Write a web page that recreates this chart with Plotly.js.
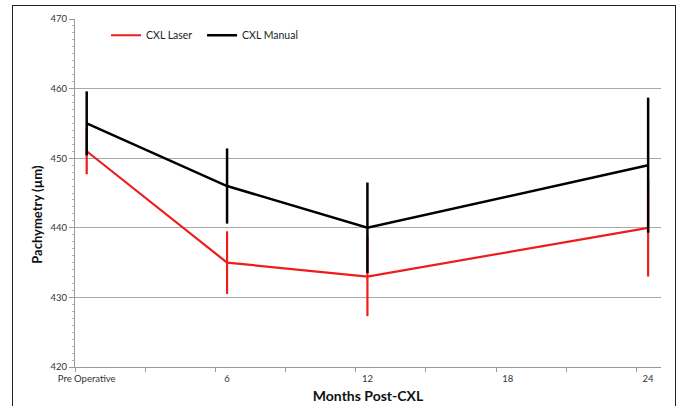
<!DOCTYPE html>
<html>
<head>
<meta charset="utf-8">
<script src="https://cdn.plot.ly/plotly-3.0.1.min.js"></script>
<style>
  html, body { margin: 0; padding: 0; background: #fff; }
  #wrap { position: relative; width: 682px; height: 406px; overflow: hidden; }
  #chart { width: 682px; height: 406px; }
  #frame { position: absolute; left: 12px; top: 5px; width: 662px; height: 420px; border: 1.5px solid #222; pointer-events: none; }
</style>
</head>
<body>
<div id="wrap">
  <div id="chart"></div>
  <div id="frame"></div>
</div>
<script>
// Data (months post-CXL; 0 = Pre Operative)
const months = [0, 6, 12, 24];
const laserMean = [451, 435, 433, 440];
const laserSD = [3.3, 4.5, 5.7, 7.0];
const manualMean = [455, 446, 440, 449];
const manualSD = [4.6, 5.4, 6.5, 9.7];

const tickVals = [0, 6, 12, 18, 24];
const tickText = ['Pre Operative', '6', '12', '18', '24'];

const fontFam = 'Lato, "Open Sans", sans-serif';

const traces = [
  {
    x: months, y: laserMean, name: 'CXL Laser', type: 'scatter', mode: 'lines',
    line: { color: '#ee1c1c', width: 2.2 },
    error_y: { type: 'data', array: laserSD, visible: true, color: '#ee1c1c', thickness: 2.2, width: 0 }
  },
  {
    x: months, y: manualMean, name: 'CXL Manual', type: 'scatter', mode: 'lines',
    line: { color: '#000000', width: 2.5 },
    error_y: { type: 'data', array: manualSD, visible: true, color: '#000000', thickness: 2.5, width: 0 }
  }
];

const layout = {
  width: 682, height: 406,
  margin: { l: 75, r: 21, t: 19, b: 39 },
  paper_bgcolor: 'rgba(0,0,0,0)', plot_bgcolor: '#ffffff',
  font: { family: fontFam, color: '#333' },
  showlegend: true,
  legend: {
    orientation: 'h', x: 0.053, xanchor: 'left', y: 0.995, yanchor: 'top',
    bgcolor: 'rgba(0,0,0,0)', font: { family: fontFam, size: 10.5, color: '#222' },
    entrywidth: 51, entrywidthmode: 'pixels', traceorder: 'normal'
  },
  xaxis: {
    range: [-0.5, 24.55], tickmode: 'array', tickvals: tickVals, ticktext: tickText,
    ticks: '', showgrid: false, zeroline: false,
    showline: true, linecolor: '#9a9a9a', linewidth: 1,
    ticklabelstandoff: 3,
    tickfont: { family: fontFam, size: 9.5, color: '#333' },
    minor: { tick0: -0.5, dtick: 3, ticks: 'outside', ticklen: 4, tickcolor: '#9a9a9a', showgrid: false },
    title: { text: '<b>Months Post-CXL</b>', font: { family: fontFam, size: 14, color: '#111' }, standoff: 7 }
  },
  yaxis: {
    range: [420, 470], tickmode: 'linear', tick0: 420, dtick: 10,
    ticks: 'outside', ticklen: 5, tickcolor: '#9a9a9a',
    showgrid: true, gridcolor: '#a8a8a8', gridwidth: 1, zeroline: false,
    showline: true, linecolor: '#9a9a9a', linewidth: 1,
    tickfont: { family: fontFam, size: 9.5, color: '#333' },
    minor: { dtick: 1, ticks: 'outside', ticklen: 2, tickcolor: '#b0b0b0', showgrid: false },
    title: { text: '' }
  },
  annotations: [
    {
      text: '<b>Pachymetry (µm)</b>', xref: 'paper', yref: 'paper',
      x: -0.065, y: 0.44, xanchor: 'center', yanchor: 'middle', textangle: -90,
      showarrow: false, font: { family: fontFam, size: 13, color: '#111' }
    }
  ]
};

Plotly.newPlot('chart', traces, layout, { displayModeBar: false, staticPlot: true });
</script>
</body>
</html>
